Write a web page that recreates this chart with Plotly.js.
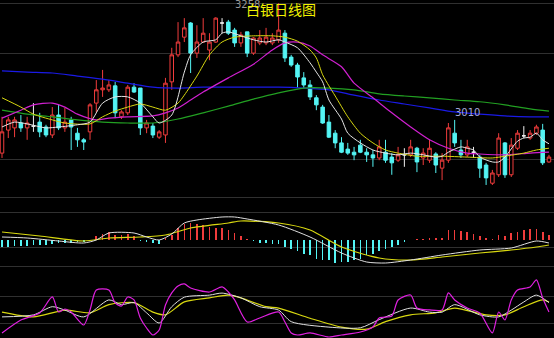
<!DOCTYPE html>
<html><head><meta charset="utf-8">
<script src="https://cdn.plot.ly/plotly-3.0.1.min.js"></script>
<style>html,body{margin:0;padding:0;background:#000;}#chart{width:554px;height:338px;}</style>
</head><body><div id="chart"></div>
<script>
// ---- daily candles (index = trading day) ----
const openP  = [2919,2971,2976,2987,2976,2980,2989,2978,2960,3005,2976,2994,2964,2949,2967,3032,3062,3062,3071,3001,3010,3068,3066,2976,2980,2955,2960,3080,3141,3181,3213,3145,3170,3152,3170,3213,3215,3197,3168,3193,3145,3168,3168,3168,3175,3190,3136,3118,3089,3073,3044,3023,2989,2964,2942,2928,2921,2937,2921,2915,2908,2921,2910,2903,2915,2915,2930,2908,2903,2917,2885,2903,2964,2926,2915,2921,2910,2892,2851,2870,2942,2870,2930,2958,2953,2964,2971,2899];
const highP  = [3001,3001,3001,3005,3001,3032,3010,2983,3023,3028,3021,3001,2976,2953,3032,3084,3107,3084,3080,3016,3073,3077,3066,2994,2987,2971,3089,3157,3215,3224,3215,3208,3224,3190,3226,3224,3220,3202,3193,3193,3181,3197,3202,3190,3258,3197,3141,3123,3102,3084,3050,3028,3005,2971,2955,2942,2933,2949,2930,2926,2949,2949,2919,2933,2930,2949,2933,2930,2949,2921,2919,2987,2994,2949,2949,2933,2915,2897,2881,2964,2944,2953,2971,2980,2971,2983,2985,2915];
const lowP   = [2908,2953,2955,2967,2949,2967,2955,2955,2953,2971,2967,2926,2933,2926,2949,3010,3046,3057,2998,2996,3005,3055,2960,2964,2953,2951,2942,3062,3136,3170,3100,3134,3168,3129,3168,3190,3186,3159,3159,3136,3141,3163,3163,3163,3168,3125,3114,3066,3066,3039,3016,2985,2953,2930,2919,2915,2903,2919,2899,2888,2903,2897,2870,2899,2888,2910,2876,2892,2897,2874,2858,2897,2933,2908,2910,2908,2863,2847,2847,2865,2863,2865,2926,2953,2949,2960,2892,2897];
const closeP = [2967,2994,2994,2976,2987,2980,2967,2960,3005,2976,2989,2978,2949,2944,3028,3062,3066,3073,3010,3012,3068,3057,2976,2987,2960,2967,3077,3141,3170,3202,3145,3170,3190,3170,3224,3213,3190,3168,3186,3145,3179,3179,3181,3179,3197,3134,3118,3091,3073,3046,3028,2987,2955,2942,2921,2919,2915,2921,2915,2908,2933,2903,2897,2915,2915,2933,2899,2919,2930,2892,2903,2976,2942,2915,2933,2921,2885,2863,2874,2953,2870,2937,2964,2958,2964,2978,2897,2910];

// ---- moving averages (read at the listed day indices) ----
const ma5Idx = [0,2,4,7,9,12,14,16,18,20,22,24,25,27,29,30,32,34,35,36,38,40,42,44,45,47,49,50,51,52,54,55,57,59,61,63,65,67,69,70,71,73,74,75,76,78,79,80,82,83,84,85,86,87];
const ma5 = [2978,2989,2985,2976,2978,2983,2989,3032,3046,3046,3032,3001,2987,3005,3102,3141,3170,3175,3190,3193,3184,3175,3170,3175,3170,3157,3123,3102,3080,3039,2996,2964,2942,2926,2919,2915,2919,2915,2910,2912,2921,2933,2930,2926,2910,2899,2899,2910,2946,2953,2955,2964,2949,2940];
const ma10Idx = [0,3,5,8,10,14,16,18,20,22,24,26,28,29,31,33,35,37,40,43,45,47,49,50,51,52,53,55,57,59,61,63,66,70,74,78,80,83,85,87];
const ma10 = [3044,3023,3007,2994,2987,2985,3001,3014,3023,3030,3023,3016,3032,3050,3093,3141,3170,3181,3184,3184,3181,3172,3152,3134,3096,3071,3048,3001,2964,2942,2926,2919,2912,2912,2910,2908,2912,2919,2926,2930];
const ma20Idx = [0,3,5,8,10,12,15,17,20,24,26,28,30,32,36,40,43,45,47,49,51,54,56,59,62,65,68,71,74,76,80,84,87];
const ma20 = [2998,3016,3028,3032,3023,3007,2994,2998,3001,3003,3010,3021,3039,3057,3089,3120,3152,3168,3170,3161,3141,3114,3077,3044,3010,2978,2949,2930,2919,2917,2915,2919,2921];
const maLongIdx = [0,4,8,12,16,20,24,28,32,36,40,44,48,52,56,60,64,68,72,76,80,84,87];
const ma60 = [3016,3007,3001,2994,2989,2987,2987,2996,3010,3025,3041,3055,3066,3066,3062,3053,3048,3044,3039,3035,3028,3019,3014];
const ma120 = [3105,3102,3100,3093,3086,3077,3068,3066,3068,3068,3068,3068,3066,3062,3050,3039,3030,3021,3012,3007,3003,3001,3001];

// ---- MACD ----
const macdHist = [-7,-7,-6,-6,-6,-5,-5,-5,-4,-3,-3,-3,-2,-2,0.5,4,6,8,5,5,6,4,-1,-2,-3,-4,2,5,12,16,17,16,15,13,12,12,10,7,4,1,-1,-3,-3,-4,-4,-7,-9,-11,-14,-15,-19,-20,-20,-23,-22,-22,-20,-19,-15,-14,-11,-9,-7,-5,-2,0.5,1,1,2,2,2,10,10,9,8,6,4,2,1.5,5,4,7,8,10,11,11,8,5];
const difIdx = [0,4,9,13,15,17,21,23,25,27,29,31,35,37,39,44,49,54,58,61,65,70,76,81,85,87];
const dif = [3,2,-1,-3,0,7,7,3,0,6,17,20,23,23,21,15,3,-13,-22,-23,-20,-15,-10,-8,-1,-3];
const deaIdx = [0,6,13,17,22,26,30,36,38,44,49,54,60,65,70,76,81,85,87];
const dea = [8,4,-1,2,3,5,12,17,19,17,10,-7,-18,-20,-17,-13,-10,-7,-5];

// ---- KDJ ----
const kIdx = [0,5,8,10,13,17,19,21,23,25,27,29,33,35,38,41,44,46,52,57,60,65,68,70,72,76,79,81,83,85,87];
const kVal = [31,34,46,41,31,56,49,52,37,22,46,60,63,66,59,46,41,24,16,15,27,44,38,38,49,34,31,41,53,63,52];
const dIdx = [0,5,10,14,17,21,24,26,29,33,36,38,42,44,49,54,58,61,65,69,72,77,80,83,86,87];
const dVal = [38,31,41,37,49,52,38,34,53,59,63,59,46,44,29,16,13,24,34,37,44,34,34,46,56,53];
const jIdx = [0,3,6,8,9,10,11,13,14,15,17,18,19,20,21,22,23,24,25,26,27,28,29,30,33,35,36,37,39,41,44,45,46,47,49,52,54,57,59,60,62,63,65,66,68,70,71,72,74,76,78,79,80,81,82,84,85,86,87];
const jVal = [7.4,26.5,36.8,60.3,38.2,42.6,38.2,19.1,41.2,70.6,70.6,51.5,47,60.3,55.9,29.4,14.7,4.4,11.8,48.5,66.2,76.4,79.4,73.5,67.6,75,67.6,55.9,23.5,29.4,38.2,23.5,7.4,4.4,7.4,1.5,4.4,8.8,16.2,29.4,32.3,55.9,63.2,44.1,41.2,41.2,66.2,55.9,44.1,36.8,7.4,38.2,26.5,55.9,70.6,75,85.3,58.8,38.2];

const titleText = '白银日线图';

// ---- styles ----
const RED = '#f03c3c', CYAN = '#54f4f4';
const W = 554, H = 338;
const days = openP.map((_, i) => i);

function pick(cond) {
  const s = days.filter(cond);
  return { x: s, open: s.map(i => openP[i]), high: s.map(i => highP[i]), low: s.map(i => lowP[i]), close: s.map(i => closeP[i]) };
}
function candle(d, color, fill) {
  return Object.assign({
    type: 'candlestick', xaxis: 'x', yaxis: 'y', hoverinfo: 'skip', whiskerwidth: 0,
    increasing: { line: { color: color, width: 1 }, fillcolor: fill },
    decreasing: { line: { color: color, width: 1 }, fillcolor: fill }
  }, d);
}
function line(x, y, color, axis, w) {
  return { type: 'scatter', mode: 'lines', x: x, y: y, yaxis: axis, xaxis: 'x', hoverinfo: 'skip',
    line: { color: color, width: w || 1, shape: 'spline', smoothing: 0.7 } };
}

const traces = [
  candle(pick(i => closeP[i] > openP[i]), RED, '#000000'),
  candle(pick(i => closeP[i] < openP[i]), CYAN, CYAN),
  candle(pick(i => closeP[i] === openP[i]), '#f0f0f0', '#f0f0f0'),
  line(maLongIdx, ma120, '#1a1ae6', 'y', 1.2),
  line(maLongIdx, ma60, '#22a022', 'y', 1.2),
  line(ma20Idx, ma20, '#d020d0', 'y', 1.2),
  line(ma10Idx, ma10, '#d8d810', 'y', 1),
  line(ma5Idx, ma5, '#e6e6e6', 'y', 1),
  { type: 'bar', x: days, y: macdHist, yaxis: 'y2', xaxis: 'x', width: 0.26, hoverinfo: 'skip',
    marker: { color: macdHist.map(v => v >= 0 ? RED : CYAN), line: { width: 0 } } },
  line(deaIdx, dea, '#d8d810', 'y2', 1.2),
  line(difIdx, dif, '#e0e0e0', 'y2', 1),
  line(dIdx, dVal, '#d8d810', 'y3', 1.2),
  line(kIdx, kVal, '#e0e0e0', 'y3', 1),
  line(jIdx, jVal, '#e020e0', 'y3', 1.2)
];

const gridRows = [3, 53, 159, 197, 212, 247, 266, 296, 323];
const shapes = gridRows.map(r => ({ type: 'line', xref: 'paper', yref: 'paper', x0: 0, x1: 1,
  y0: 1 - (r + 0.5) / H, y1: 1 - (r + 0.5) / H,
  line: { color: '#303030', width: 1 }, layer: 'below' }));

const hiIdx = highP.indexOf(Math.max(...highP));
const layout = {
  width: W, height: H, margin: { l: 0, r: 0, t: 0, b: 0, pad: 0 },
  paper_bgcolor: '#000', plot_bgcolor: '#000', showlegend: false, bargap: 0, boxgap: 0.2,
  xaxis: { range: [-0.318, 87.8], visible: false, rangeslider: { visible: false }, fixedrange: true },
  yaxis: { domain: [1 - 190 / H, 1], range: [2835.6, 3265], visible: false },
  yaxis2: { domain: [1 - 266 / H, 1 - 190 / H], range: [-26, 50], visible: false, anchor: 'x' },
  yaxis3: { domain: [0, 1 - 266 / H], range: [0, 105.8], visible: false, anchor: 'x' },
  shapes: shapes,
  annotations: [
    { xref: 'x', yref: 'y', x: hiIdx, y: highP[hiIdx], text: String(highP[hiIdx]), showarrow: false,
      xanchor: 'right', yanchor: 'middle', xshift: -17, yshift: -1,
      font: { family: 'DejaVu Sans', size: 10, color: '#9a9a9a' } },
    { xref: 'x', yref: 'y', x: 74, y: 3010, text: '3010', showarrow: false, xanchor: 'center', yanchor: 'middle',
      font: { family: 'DejaVu Sans', size: 10, color: '#a4a8dc' } },
    { xref: 'paper', yref: 'paper', x: 281 / W, y: 1 - 9.5 / H, text: titleText, showarrow: false,
      xanchor: 'center', yanchor: 'middle',
      font: { family: 'Noto Sans CJK SC', size: 14, color: '#f2f200' } }
  ]
};

Plotly.newPlot('chart', traces, layout, { staticPlot: true, displayModeBar: false });
</script>
</body></html>
